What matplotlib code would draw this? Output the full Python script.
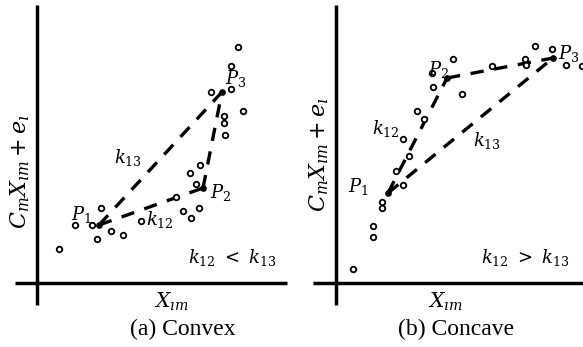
"""
Convex vs concave sketch of C_m X_im + e_i against X_im
"""
import matplotlib
matplotlib.use("Agg")
import matplotlib.pyplot as plt

CONVEX_X = [22, 38, 55, 64, 60, 74, 86, 104, 139, 146, 154, 162, 153, 163,
            159, 188, 187, 187, 206, 174, 194, 194, 201]
CONVEX_Y = [34, 58, 58, 75, 44, 52, 48, 62, 86, 72, 65, 75, 110, 118,
            99, 148, 160, 167, 172, 191, 194, 217, 236]
CONVEX_P = [(62, 58), (166, 95), (185, 191)]  # P1, P2, P3

CONCAVE_X = [17, 37, 37, 46, 46, 67, 60, 73, 67, 81, 88, 97, 96, 117, 126,
             156, 189, 190, 199, 216, 230, 246]
CONCAVE_Y = [14, 57, 46, 81, 75, 98, 112, 127, 144, 172, 164, 196, 210, 224,
             189, 217, 224, 218, 237, 234, 218, 217]
CONCAVE_P = [(52, 90), (111, 205), (217, 225)]

plt.rcParams["mathtext.fontset"] = "dejavuserif"
plt.rcParams["font.family"] = "Liberation Serif"

DASH = dict(color="black", lw=2.4, dashes=(4, 3.2), solid_capstyle="butt")


def draw_panel(ax, xs, ys, pts, xlim, hline, labels, ylab_y):
    ax.set_xlim(*xlim)
    ax.set_ylim(-64, 283)
    ax.axis("off")

    # axes lines
    ax.plot(hline, [0, 0], color="black", lw=2.5, solid_capstyle="butt")
    ax.plot([0, 0], [-22, 278], color="black", lw=2.5, solid_capstyle="butt")

    p1, p2, p3 = pts
    ax.plot([p1[0], p2[0]], [p1[1], p2[1]], **DASH)
    ax.plot([p2[0], p3[0]], [p2[1], p3[1]], **DASH)
    ax.plot([p1[0], p3[0]], [p1[1], p3[1]], **DASH)
    ax.plot([p[0] for p in pts], [p[1] for p in pts], "o", color="black", ms=3.8)

    ax.plot(xs, ys, "o", mfc="white", mec="black", ms=4.0, mew=1.3)

    for x, y, s, size in labels:
        ax.text(x, y, s, fontsize=size, ha="center", va="center")

    ax.text(-17, ylab_y, r"$C_m X_{\imath m} + e_\imath$", fontsize=16,
            rotation=90, ha="center", va="center")


fig = plt.figure(figsize=(5.83, 3.47), dpi=100)
ax1 = fig.add_axes([0, 0, 290 / 583, 1])
ax2 = fig.add_axes([290 / 583, 0, 293 / 583, 1])

draw_panel(ax1, CONVEX_X, CONVEX_Y, CONVEX_P, (-37, 253), [-22, 250],
           [(44, 69, r"$P_1$", 13), (91, 126, r"$k_{13}$", 13),
            (123, 63, r"$k_{12}$", 13), (184, 91, r"$P_2$", 13),
            (199, 205, r"$P_3$", 13),
            (195, 26, r"$k_{12}\ <\ k_{13}$", 13)],
           111)
ax1.text(134, -19, r"$X_{\imath m}$", fontsize=14.5, ha="center", va="center")
ax1.text(146, -46, "(a) Convex", fontsize=17, ha="center", va="center")

draw_panel(ax2, CONCAVE_X, CONCAVE_Y, CONCAVE_P, (-46, 247), [-23, 247],
           [(22, 97, r"$P_1$", 13), (50, 155, r"$k_{12}$", 13),
            (103, 214, r"$P_2$", 13), (233, 230, r"$P_3$", 13),
            (151, 143, r"$k_{13}$", 13),
            (189, 26, r"$k_{12}\ >\ k_{13}$", 13)],
           128)
ax2.text(109, -19, r"$X_{\imath m}$", fontsize=14.5, ha="center", va="center")
ax2.text(120, -46, "(b) Concave", fontsize=17, ha="center", va="center")

fig.savefig("out.png", dpi=100)
